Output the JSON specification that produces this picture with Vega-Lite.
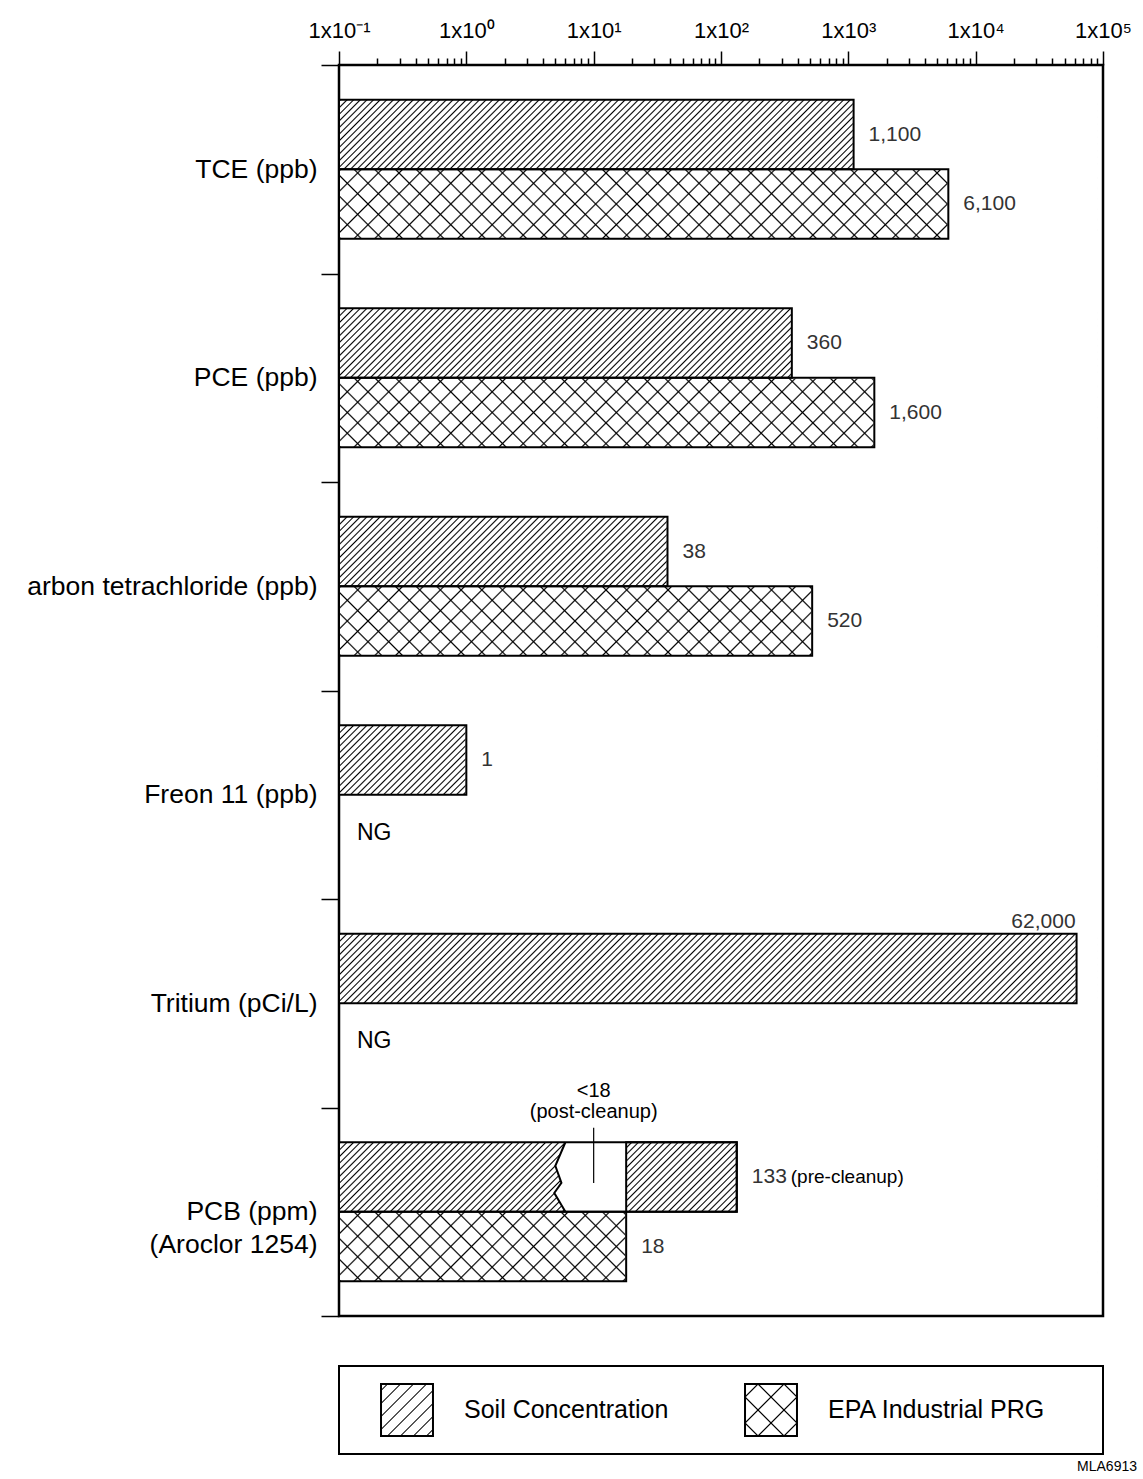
{
  "$schema": "https://vega.github.io/schema/vega-lite/v6.json",
  "background": "white",
  "padding": {"left": 25, "top": 17, "right": 0, "bottom": 0},
  "spacing": 50,
  "bounds": "flush",
  "config": {"font": "Liberation Sans"},
  "vconcat": [
    {
      "width": 764,
      "height": 1251,
      "view": {"stroke": "black", "strokeWidth": 2.5},
      "data": {"values": [
        {"cat": "TCE (ppb)", "series": "Soil Concentration", "value": 1100, "label": "1,100"},
        {"cat": "TCE (ppb)", "series": "EPA Industrial PRG", "value": 6100, "label": "6,100"},
        {"cat": "PCE (ppb)", "series": "Soil Concentration", "value": 360, "label": "360"},
        {"cat": "PCE (ppb)", "series": "EPA Industrial PRG", "value": 1600, "label": "1,600"},
        {"cat": "arbon tetrachloride (ppb)", "series": "Soil Concentration", "value": 38, "label": "38"},
        {"cat": "arbon tetrachloride (ppb)", "series": "EPA Industrial PRG", "value": 520, "label": "520"},
        {"cat": "Freon 11 (ppb)", "series": "Soil Concentration", "value": 1, "label": "1"},
        {"cat": "Freon 11 (ppb)", "series": "EPA Industrial PRG", "value": null, "label": "NG"},
        {"cat": "Tritium (pCi/L)", "series": "Soil Concentration", "value": 62000, "label": "62,000"},
        {"cat": "Tritium (pCi/L)", "series": "EPA Industrial PRG", "value": null, "label": "NG"},
        {"cat": "PCB (ppm)|(Aroclor 1254)", "series": "Soil Concentration", "value": 133, "label": "133"},
        {"cat": "PCB (ppm)|(Aroclor 1254)", "series": "EPA Industrial PRG", "value": 18, "label": "18"}
      ]},
      "encoding": {
        "y": {
          "field": "cat", "type": "nominal", "sort": null,
          "scale": {"domain": ["TCE (ppb)", "PCE (ppb)", "arbon tetrachloride (ppb)", "Freon 11 (ppb)", "Tritium (pCi/L)", "PCB (ppm)|(Aroclor 1254)"], "paddingInner": 0, "paddingOuter": 0},
          "axis": {"orient": "left", "title": null, "domain": false, "tickBand": "extent", "tickSize": 18, "tickWidth": 1.5, "tickColor": "black", "labelFontSize": 26.5, "labelColor": "black", "labelFont": "Liberation Sans", "labelPadding": 4, "labelLimit": 600, "labelExpr": "split(datum.label, '|')", "labelLineHeight": 33, "grid": false}
        },
        "yOffset": {
          "field": "series", "type": "nominal",
          "scale": {"domain": ["Soil Concentration", "EPA Industrial PRG"], "paddingInner": 0, "paddingOuter": 0.5}
        }
      },
      "layer": [
        {
          "transform": [{"filter": "datum.series == 'Soil Concentration'"}],
          "mark": {"type": "bar", "strokeWidth": 0, "fill": {"gradient": "linear", "x1": 0, "y1": 0, "x2": 1.0826, "y2": 0.0992, "stops": [
{"offset":0,"color":"#fff"},{"offset":0.0018,"color":"#000"},{"offset":0.0036,"color":"#fff"},
{"offset":0.008,"color":"#fff"},{"offset":0.0098,"color":"#000"},{"offset":0.0116,"color":"#fff"},
{"offset":0.016,"color":"#fff"},{"offset":0.0178,"color":"#000"},{"offset":0.0196,"color":"#fff"},
{"offset":0.024,"color":"#fff"},{"offset":0.0258,"color":"#000"},{"offset":0.0276,"color":"#fff"},
{"offset":0.032,"color":"#fff"},{"offset":0.0338,"color":"#000"},{"offset":0.0356,"color":"#fff"},
{"offset":0.04,"color":"#fff"},{"offset":0.0418,"color":"#000"},{"offset":0.0436,"color":"#fff"},
{"offset":0.048,"color":"#fff"},{"offset":0.0498,"color":"#000"},{"offset":0.0516,"color":"#fff"},
{"offset":0.056,"color":"#fff"},{"offset":0.0578,"color":"#000"},{"offset":0.0596,"color":"#fff"},
{"offset":0.064,"color":"#fff"},{"offset":0.0658,"color":"#000"},{"offset":0.0676,"color":"#fff"},
{"offset":0.072,"color":"#fff"},{"offset":0.0738,"color":"#000"},{"offset":0.0756,"color":"#fff"},
{"offset":0.08,"color":"#fff"},{"offset":0.0818,"color":"#000"},{"offset":0.0836,"color":"#fff"},
{"offset":0.088,"color":"#fff"},{"offset":0.0898,"color":"#000"},{"offset":0.0916,"color":"#fff"},
{"offset":0.096,"color":"#fff"},{"offset":0.0978,"color":"#000"},{"offset":0.0996,"color":"#fff"},
{"offset":0.104,"color":"#fff"},{"offset":0.1058,"color":"#000"},{"offset":0.1076,"color":"#fff"},
{"offset":0.112,"color":"#fff"},{"offset":0.1138,"color":"#000"},{"offset":0.1156,"color":"#fff"},
{"offset":0.12,"color":"#fff"},{"offset":0.1218,"color":"#000"},{"offset":0.1236,"color":"#fff"},
{"offset":0.128,"color":"#fff"},{"offset":0.1298,"color":"#000"},{"offset":0.1316,"color":"#fff"},
{"offset":0.136,"color":"#fff"},{"offset":0.1378,"color":"#000"},{"offset":0.1396,"color":"#fff"},
{"offset":0.144,"color":"#fff"},{"offset":0.1458,"color":"#000"},{"offset":0.1476,"color":"#fff"},
{"offset":0.152,"color":"#fff"},{"offset":0.1538,"color":"#000"},{"offset":0.1556,"color":"#fff"},
{"offset":0.16,"color":"#fff"},{"offset":0.1618,"color":"#000"},{"offset":0.1636,"color":"#fff"},
{"offset":0.168,"color":"#fff"},{"offset":0.1698,"color":"#000"},{"offset":0.1716,"color":"#fff"},
{"offset":0.176,"color":"#fff"},{"offset":0.1778,"color":"#000"},{"offset":0.1796,"color":"#fff"},
{"offset":0.184,"color":"#fff"},{"offset":0.1858,"color":"#000"},{"offset":0.1876,"color":"#fff"},
{"offset":0.192,"color":"#fff"},{"offset":0.1938,"color":"#000"},{"offset":0.1956,"color":"#fff"},
{"offset":0.2,"color":"#fff"},{"offset":0.2018,"color":"#000"},{"offset":0.2036,"color":"#fff"},
{"offset":0.208,"color":"#fff"},{"offset":0.2098,"color":"#000"},{"offset":0.2116,"color":"#fff"},
{"offset":0.216,"color":"#fff"},{"offset":0.2178,"color":"#000"},{"offset":0.2196,"color":"#fff"},
{"offset":0.224,"color":"#fff"},{"offset":0.2258,"color":"#000"},{"offset":0.2276,"color":"#fff"},
{"offset":0.232,"color":"#fff"},{"offset":0.2338,"color":"#000"},{"offset":0.2356,"color":"#fff"},
{"offset":0.24,"color":"#fff"},{"offset":0.2418,"color":"#000"},{"offset":0.2436,"color":"#fff"},
{"offset":0.248,"color":"#fff"},{"offset":0.2498,"color":"#000"},{"offset":0.2516,"color":"#fff"},
{"offset":0.256,"color":"#fff"},{"offset":0.2578,"color":"#000"},{"offset":0.2596,"color":"#fff"},
{"offset":0.264,"color":"#fff"},{"offset":0.2658,"color":"#000"},{"offset":0.2676,"color":"#fff"},
{"offset":0.272,"color":"#fff"},{"offset":0.2738,"color":"#000"},{"offset":0.2756,"color":"#fff"},
{"offset":0.28,"color":"#fff"},{"offset":0.2818,"color":"#000"},{"offset":0.2836,"color":"#fff"},
{"offset":0.288,"color":"#fff"},{"offset":0.2898,"color":"#000"},{"offset":0.2916,"color":"#fff"},
{"offset":0.296,"color":"#fff"},{"offset":0.2978,"color":"#000"},{"offset":0.2996,"color":"#fff"},
{"offset":0.304,"color":"#fff"},{"offset":0.3058,"color":"#000"},{"offset":0.3076,"color":"#fff"},
{"offset":0.312,"color":"#fff"},{"offset":0.3138,"color":"#000"},{"offset":0.3156,"color":"#fff"},
{"offset":0.32,"color":"#fff"},{"offset":0.3218,"color":"#000"},{"offset":0.3236,"color":"#fff"},
{"offset":0.328,"color":"#fff"},{"offset":0.3298,"color":"#000"},{"offset":0.3316,"color":"#fff"},
{"offset":0.336,"color":"#fff"},{"offset":0.3378,"color":"#000"},{"offset":0.3396,"color":"#fff"},
{"offset":0.344,"color":"#fff"},{"offset":0.3458,"color":"#000"},{"offset":0.3476,"color":"#fff"},
{"offset":0.352,"color":"#fff"},{"offset":0.3538,"color":"#000"},{"offset":0.3556,"color":"#fff"},
{"offset":0.36,"color":"#fff"},{"offset":0.3618,"color":"#000"},{"offset":0.3636,"color":"#fff"},
{"offset":0.368,"color":"#fff"},{"offset":0.3698,"color":"#000"},{"offset":0.3716,"color":"#fff"},
{"offset":0.376,"color":"#fff"},{"offset":0.3778,"color":"#000"},{"offset":0.3796,"color":"#fff"},
{"offset":0.384,"color":"#fff"},{"offset":0.3858,"color":"#000"},{"offset":0.3876,"color":"#fff"},
{"offset":0.392,"color":"#fff"},{"offset":0.3938,"color":"#000"},{"offset":0.3956,"color":"#fff"},
{"offset":0.4,"color":"#fff"},{"offset":0.4018,"color":"#000"},{"offset":0.4036,"color":"#fff"},
{"offset":0.408,"color":"#fff"},{"offset":0.4098,"color":"#000"},{"offset":0.4116,"color":"#fff"},
{"offset":0.416,"color":"#fff"},{"offset":0.4178,"color":"#000"},{"offset":0.4196,"color":"#fff"},
{"offset":0.424,"color":"#fff"},{"offset":0.4258,"color":"#000"},{"offset":0.4276,"color":"#fff"},
{"offset":0.432,"color":"#fff"},{"offset":0.4338,"color":"#000"},{"offset":0.4356,"color":"#fff"},
{"offset":0.44,"color":"#fff"},{"offset":0.4418,"color":"#000"},{"offset":0.4436,"color":"#fff"},
{"offset":0.448,"color":"#fff"},{"offset":0.4498,"color":"#000"},{"offset":0.4516,"color":"#fff"},
{"offset":0.456,"color":"#fff"},{"offset":0.4578,"color":"#000"},{"offset":0.4596,"color":"#fff"},
{"offset":0.464,"color":"#fff"},{"offset":0.4658,"color":"#000"},{"offset":0.4676,"color":"#fff"},
{"offset":0.472,"color":"#fff"},{"offset":0.4738,"color":"#000"},{"offset":0.4756,"color":"#fff"},
{"offset":0.48,"color":"#fff"},{"offset":0.4818,"color":"#000"},{"offset":0.4836,"color":"#fff"},
{"offset":0.488,"color":"#fff"},{"offset":0.4898,"color":"#000"},{"offset":0.4916,"color":"#fff"},
{"offset":0.496,"color":"#fff"},{"offset":0.4978,"color":"#000"},{"offset":0.4996,"color":"#fff"},
{"offset":0.504,"color":"#fff"},{"offset":0.5058,"color":"#000"},{"offset":0.5076,"color":"#fff"},
{"offset":0.512,"color":"#fff"},{"offset":0.5138,"color":"#000"},{"offset":0.5156,"color":"#fff"},
{"offset":0.52,"color":"#fff"},{"offset":0.5218,"color":"#000"},{"offset":0.5236,"color":"#fff"},
{"offset":0.528,"color":"#fff"},{"offset":0.5298,"color":"#000"},{"offset":0.5316,"color":"#fff"},
{"offset":0.536,"color":"#fff"},{"offset":0.5378,"color":"#000"},{"offset":0.5396,"color":"#fff"},
{"offset":0.544,"color":"#fff"},{"offset":0.5458,"color":"#000"},{"offset":0.5476,"color":"#fff"},
{"offset":0.552,"color":"#fff"},{"offset":0.5538,"color":"#000"},{"offset":0.5556,"color":"#fff"},
{"offset":0.56,"color":"#fff"},{"offset":0.5618,"color":"#000"},{"offset":0.5636,"color":"#fff"},
{"offset":0.568,"color":"#fff"},{"offset":0.5698,"color":"#000"},{"offset":0.5716,"color":"#fff"},
{"offset":0.576,"color":"#fff"},{"offset":0.5778,"color":"#000"},{"offset":0.5796,"color":"#fff"},
{"offset":0.584,"color":"#fff"},{"offset":0.5858,"color":"#000"},{"offset":0.5876,"color":"#fff"},
{"offset":0.592,"color":"#fff"},{"offset":0.5938,"color":"#000"},{"offset":0.5956,"color":"#fff"},
{"offset":0.6,"color":"#fff"},{"offset":0.6018,"color":"#000"},{"offset":0.6036,"color":"#fff"},
{"offset":0.608,"color":"#fff"},{"offset":0.6098,"color":"#000"},{"offset":0.6116,"color":"#fff"},
{"offset":0.616,"color":"#fff"},{"offset":0.6178,"color":"#000"},{"offset":0.6196,"color":"#fff"},
{"offset":0.624,"color":"#fff"},{"offset":0.6258,"color":"#000"},{"offset":0.6276,"color":"#fff"},
{"offset":0.632,"color":"#fff"},{"offset":0.6338,"color":"#000"},{"offset":0.6356,"color":"#fff"},
{"offset":0.64,"color":"#fff"},{"offset":0.6418,"color":"#000"},{"offset":0.6436,"color":"#fff"},
{"offset":0.648,"color":"#fff"},{"offset":0.6498,"color":"#000"},{"offset":0.6516,"color":"#fff"},
{"offset":0.656,"color":"#fff"},{"offset":0.6578,"color":"#000"},{"offset":0.6596,"color":"#fff"},
{"offset":0.664,"color":"#fff"},{"offset":0.6658,"color":"#000"},{"offset":0.6676,"color":"#fff"},
{"offset":0.672,"color":"#fff"},{"offset":0.6738,"color":"#000"},{"offset":0.6756,"color":"#fff"},
{"offset":0.68,"color":"#fff"},{"offset":0.6818,"color":"#000"},{"offset":0.6836,"color":"#fff"},
{"offset":0.688,"color":"#fff"},{"offset":0.6898,"color":"#000"},{"offset":0.6916,"color":"#fff"},
{"offset":0.696,"color":"#fff"},{"offset":0.6978,"color":"#000"},{"offset":0.6996,"color":"#fff"},
{"offset":0.704,"color":"#fff"},{"offset":0.7058,"color":"#000"},{"offset":0.7076,"color":"#fff"},
{"offset":0.712,"color":"#fff"},{"offset":0.7138,"color":"#000"},{"offset":0.7156,"color":"#fff"},
{"offset":0.72,"color":"#fff"},{"offset":0.7218,"color":"#000"},{"offset":0.7236,"color":"#fff"},
{"offset":0.728,"color":"#fff"},{"offset":0.7298,"color":"#000"},{"offset":0.7316,"color":"#fff"},
{"offset":0.736,"color":"#fff"},{"offset":0.7378,"color":"#000"},{"offset":0.7396,"color":"#fff"},
{"offset":0.744,"color":"#fff"},{"offset":0.7458,"color":"#000"},{"offset":0.7476,"color":"#fff"},
{"offset":0.752,"color":"#fff"},{"offset":0.7538,"color":"#000"},{"offset":0.7556,"color":"#fff"},
{"offset":0.76,"color":"#fff"},{"offset":0.7618,"color":"#000"},{"offset":0.7636,"color":"#fff"},
{"offset":0.768,"color":"#fff"},{"offset":0.7698,"color":"#000"},{"offset":0.7716,"color":"#fff"},
{"offset":0.776,"color":"#fff"},{"offset":0.7778,"color":"#000"},{"offset":0.7796,"color":"#fff"},
{"offset":0.784,"color":"#fff"},{"offset":0.7858,"color":"#000"},{"offset":0.7876,"color":"#fff"},
{"offset":0.792,"color":"#fff"},{"offset":0.7938,"color":"#000"},{"offset":0.7956,"color":"#fff"},
{"offset":0.8,"color":"#fff"},{"offset":0.8018,"color":"#000"},{"offset":0.8036,"color":"#fff"},
{"offset":0.808,"color":"#fff"},{"offset":0.8098,"color":"#000"},{"offset":0.8116,"color":"#fff"},
{"offset":0.816,"color":"#fff"},{"offset":0.8178,"color":"#000"},{"offset":0.8196,"color":"#fff"},
{"offset":0.824,"color":"#fff"},{"offset":0.8258,"color":"#000"},{"offset":0.8276,"color":"#fff"},
{"offset":0.832,"color":"#fff"},{"offset":0.8338,"color":"#000"},{"offset":0.8356,"color":"#fff"},
{"offset":0.84,"color":"#fff"},{"offset":0.8418,"color":"#000"},{"offset":0.8436,"color":"#fff"},
{"offset":0.848,"color":"#fff"},{"offset":0.8498,"color":"#000"},{"offset":0.8516,"color":"#fff"},
{"offset":0.856,"color":"#fff"},{"offset":0.8578,"color":"#000"},{"offset":0.8596,"color":"#fff"},
{"offset":0.864,"color":"#fff"},{"offset":0.8658,"color":"#000"},{"offset":0.8676,"color":"#fff"},
{"offset":0.872,"color":"#fff"},{"offset":0.8738,"color":"#000"},{"offset":0.8756,"color":"#fff"},
{"offset":0.88,"color":"#fff"},{"offset":0.8818,"color":"#000"},{"offset":0.8836,"color":"#fff"},
{"offset":0.888,"color":"#fff"},{"offset":0.8898,"color":"#000"},{"offset":0.8916,"color":"#fff"},
{"offset":0.896,"color":"#fff"},{"offset":0.8978,"color":"#000"},{"offset":0.8996,"color":"#fff"},
{"offset":0.904,"color":"#fff"},{"offset":0.9058,"color":"#000"},{"offset":0.9076,"color":"#fff"},
{"offset":0.912,"color":"#fff"},{"offset":0.9138,"color":"#000"},{"offset":0.9156,"color":"#fff"},
{"offset":0.92,"color":"#fff"},{"offset":0.9218,"color":"#000"},{"offset":0.9236,"color":"#fff"},
{"offset":0.928,"color":"#fff"},{"offset":0.9298,"color":"#000"},{"offset":0.9316,"color":"#fff"},
{"offset":0.936,"color":"#fff"},{"offset":0.9378,"color":"#000"},{"offset":0.9396,"color":"#fff"},
{"offset":0.944,"color":"#fff"},{"offset":0.9458,"color":"#000"},{"offset":0.9476,"color":"#fff"},
{"offset":0.952,"color":"#fff"},{"offset":0.9538,"color":"#000"},{"offset":0.9556,"color":"#fff"},
{"offset":0.96,"color":"#fff"},{"offset":0.9618,"color":"#000"},{"offset":0.9636,"color":"#fff"},
{"offset":0.968,"color":"#fff"},{"offset":0.9698,"color":"#000"},{"offset":0.9716,"color":"#fff"},
{"offset":0.976,"color":"#fff"},{"offset":0.9778,"color":"#000"},{"offset":0.9796,"color":"#fff"},
{"offset":0.984,"color":"#fff"},{"offset":0.9858,"color":"#000"},{"offset":0.9876,"color":"#fff"},
{"offset":0.992,"color":"#fff"},{"offset":0.9938,"color":"#000"},{"offset":0.9956,"color":"#fff"},
{"offset":1,"color":"#fff"}
          ]}},
          "encoding": {"x": {"datum": 90000, "type": "quantitative", "stack": null, "scale": {"type": "log", "domain": [0.1, 100000], "nice": false}}}
        },
        {
          "transform": [{"filter": "datum.series == 'EPA Industrial PRG' && isValid(datum.value)"}],
          "mark": {"type": "bar", "strokeWidth": 0, "fill": {"gradient": "linear", "x1": 0, "y1": 0, "x2": 1.0826, "y2": 0.0992, "stops": [
{"offset":0,"color":"#fff"},{"offset":0.002,"color":"#000"},{"offset":0.004,"color":"#fff"},
{"offset":0.025,"color":"#fff"},{"offset":0.027,"color":"#000"},{"offset":0.029,"color":"#fff"},
{"offset":0.05,"color":"#fff"},{"offset":0.052,"color":"#000"},{"offset":0.054,"color":"#fff"},
{"offset":0.075,"color":"#fff"},{"offset":0.077,"color":"#000"},{"offset":0.079,"color":"#fff"},
{"offset":0.1,"color":"#fff"},{"offset":0.102,"color":"#000"},{"offset":0.104,"color":"#fff"},
{"offset":0.125,"color":"#fff"},{"offset":0.127,"color":"#000"},{"offset":0.129,"color":"#fff"},
{"offset":0.15,"color":"#fff"},{"offset":0.152,"color":"#000"},{"offset":0.154,"color":"#fff"},
{"offset":0.175,"color":"#fff"},{"offset":0.177,"color":"#000"},{"offset":0.179,"color":"#fff"},
{"offset":0.2,"color":"#fff"},{"offset":0.202,"color":"#000"},{"offset":0.204,"color":"#fff"},
{"offset":0.225,"color":"#fff"},{"offset":0.227,"color":"#000"},{"offset":0.229,"color":"#fff"},
{"offset":0.25,"color":"#fff"},{"offset":0.252,"color":"#000"},{"offset":0.254,"color":"#fff"},
{"offset":0.275,"color":"#fff"},{"offset":0.277,"color":"#000"},{"offset":0.279,"color":"#fff"},
{"offset":0.3,"color":"#fff"},{"offset":0.302,"color":"#000"},{"offset":0.304,"color":"#fff"},
{"offset":0.325,"color":"#fff"},{"offset":0.327,"color":"#000"},{"offset":0.329,"color":"#fff"},
{"offset":0.35,"color":"#fff"},{"offset":0.352,"color":"#000"},{"offset":0.354,"color":"#fff"},
{"offset":0.375,"color":"#fff"},{"offset":0.377,"color":"#000"},{"offset":0.379,"color":"#fff"},
{"offset":0.4,"color":"#fff"},{"offset":0.402,"color":"#000"},{"offset":0.404,"color":"#fff"},
{"offset":0.425,"color":"#fff"},{"offset":0.427,"color":"#000"},{"offset":0.429,"color":"#fff"},
{"offset":0.45,"color":"#fff"},{"offset":0.452,"color":"#000"},{"offset":0.454,"color":"#fff"},
{"offset":0.475,"color":"#fff"},{"offset":0.477,"color":"#000"},{"offset":0.479,"color":"#fff"},
{"offset":0.5,"color":"#fff"},{"offset":0.502,"color":"#000"},{"offset":0.504,"color":"#fff"},
{"offset":0.525,"color":"#fff"},{"offset":0.527,"color":"#000"},{"offset":0.529,"color":"#fff"},
{"offset":0.55,"color":"#fff"},{"offset":0.552,"color":"#000"},{"offset":0.554,"color":"#fff"},
{"offset":0.575,"color":"#fff"},{"offset":0.577,"color":"#000"},{"offset":0.579,"color":"#fff"},
{"offset":0.6,"color":"#fff"},{"offset":0.602,"color":"#000"},{"offset":0.604,"color":"#fff"},
{"offset":0.625,"color":"#fff"},{"offset":0.627,"color":"#000"},{"offset":0.629,"color":"#fff"},
{"offset":0.65,"color":"#fff"},{"offset":0.652,"color":"#000"},{"offset":0.654,"color":"#fff"},
{"offset":0.675,"color":"#fff"},{"offset":0.677,"color":"#000"},{"offset":0.679,"color":"#fff"},
{"offset":0.7,"color":"#fff"},{"offset":0.702,"color":"#000"},{"offset":0.704,"color":"#fff"},
{"offset":0.725,"color":"#fff"},{"offset":0.727,"color":"#000"},{"offset":0.729,"color":"#fff"},
{"offset":0.75,"color":"#fff"},{"offset":0.752,"color":"#000"},{"offset":0.754,"color":"#fff"},
{"offset":0.775,"color":"#fff"},{"offset":0.777,"color":"#000"},{"offset":0.779,"color":"#fff"},
{"offset":0.8,"color":"#fff"},{"offset":0.802,"color":"#000"},{"offset":0.804,"color":"#fff"},
{"offset":0.825,"color":"#fff"},{"offset":0.827,"color":"#000"},{"offset":0.829,"color":"#fff"},
{"offset":0.85,"color":"#fff"},{"offset":0.852,"color":"#000"},{"offset":0.854,"color":"#fff"},
{"offset":0.875,"color":"#fff"},{"offset":0.877,"color":"#000"},{"offset":0.879,"color":"#fff"},
{"offset":0.9,"color":"#fff"},{"offset":0.902,"color":"#000"},{"offset":0.904,"color":"#fff"},
{"offset":0.925,"color":"#fff"},{"offset":0.927,"color":"#000"},{"offset":0.929,"color":"#fff"},
{"offset":0.95,"color":"#fff"},{"offset":0.952,"color":"#000"},{"offset":0.954,"color":"#fff"},
{"offset":0.975,"color":"#fff"},{"offset":0.977,"color":"#000"},{"offset":0.979,"color":"#fff"},
{"offset":1,"color":"#fff"}
          ]}},
          "encoding": {"x": {"datum": 90000, "type": "quantitative", "stack": null}}
        },
        {
          "transform": [{"filter": "datum.series == 'EPA Industrial PRG' && isValid(datum.value)"}],
          "mark": {"type": "bar", "strokeWidth": 0, "fill": {"gradient": "linear", "x1": 0, "y1": 1, "x2": 1.0826, "y2": 0.9008, "stops": [
{"offset":0,"color":"rgba(0,0,0,0)"},{"offset":0.002,"color":"#000"},{"offset":0.004,"color":"rgba(0,0,0,0)"},
{"offset":0.025,"color":"rgba(0,0,0,0)"},{"offset":0.027,"color":"#000"},{"offset":0.029,"color":"rgba(0,0,0,0)"},
{"offset":0.05,"color":"rgba(0,0,0,0)"},{"offset":0.052,"color":"#000"},{"offset":0.054,"color":"rgba(0,0,0,0)"},
{"offset":0.075,"color":"rgba(0,0,0,0)"},{"offset":0.077,"color":"#000"},{"offset":0.079,"color":"rgba(0,0,0,0)"},
{"offset":0.1,"color":"rgba(0,0,0,0)"},{"offset":0.102,"color":"#000"},{"offset":0.104,"color":"rgba(0,0,0,0)"},
{"offset":0.125,"color":"rgba(0,0,0,0)"},{"offset":0.127,"color":"#000"},{"offset":0.129,"color":"rgba(0,0,0,0)"},
{"offset":0.15,"color":"rgba(0,0,0,0)"},{"offset":0.152,"color":"#000"},{"offset":0.154,"color":"rgba(0,0,0,0)"},
{"offset":0.175,"color":"rgba(0,0,0,0)"},{"offset":0.177,"color":"#000"},{"offset":0.179,"color":"rgba(0,0,0,0)"},
{"offset":0.2,"color":"rgba(0,0,0,0)"},{"offset":0.202,"color":"#000"},{"offset":0.204,"color":"rgba(0,0,0,0)"},
{"offset":0.225,"color":"rgba(0,0,0,0)"},{"offset":0.227,"color":"#000"},{"offset":0.229,"color":"rgba(0,0,0,0)"},
{"offset":0.25,"color":"rgba(0,0,0,0)"},{"offset":0.252,"color":"#000"},{"offset":0.254,"color":"rgba(0,0,0,0)"},
{"offset":0.275,"color":"rgba(0,0,0,0)"},{"offset":0.277,"color":"#000"},{"offset":0.279,"color":"rgba(0,0,0,0)"},
{"offset":0.3,"color":"rgba(0,0,0,0)"},{"offset":0.302,"color":"#000"},{"offset":0.304,"color":"rgba(0,0,0,0)"},
{"offset":0.325,"color":"rgba(0,0,0,0)"},{"offset":0.327,"color":"#000"},{"offset":0.329,"color":"rgba(0,0,0,0)"},
{"offset":0.35,"color":"rgba(0,0,0,0)"},{"offset":0.352,"color":"#000"},{"offset":0.354,"color":"rgba(0,0,0,0)"},
{"offset":0.375,"color":"rgba(0,0,0,0)"},{"offset":0.377,"color":"#000"},{"offset":0.379,"color":"rgba(0,0,0,0)"},
{"offset":0.4,"color":"rgba(0,0,0,0)"},{"offset":0.402,"color":"#000"},{"offset":0.404,"color":"rgba(0,0,0,0)"},
{"offset":0.425,"color":"rgba(0,0,0,0)"},{"offset":0.427,"color":"#000"},{"offset":0.429,"color":"rgba(0,0,0,0)"},
{"offset":0.45,"color":"rgba(0,0,0,0)"},{"offset":0.452,"color":"#000"},{"offset":0.454,"color":"rgba(0,0,0,0)"},
{"offset":0.475,"color":"rgba(0,0,0,0)"},{"offset":0.477,"color":"#000"},{"offset":0.479,"color":"rgba(0,0,0,0)"},
{"offset":0.5,"color":"rgba(0,0,0,0)"},{"offset":0.502,"color":"#000"},{"offset":0.504,"color":"rgba(0,0,0,0)"},
{"offset":0.525,"color":"rgba(0,0,0,0)"},{"offset":0.527,"color":"#000"},{"offset":0.529,"color":"rgba(0,0,0,0)"},
{"offset":0.55,"color":"rgba(0,0,0,0)"},{"offset":0.552,"color":"#000"},{"offset":0.554,"color":"rgba(0,0,0,0)"},
{"offset":0.575,"color":"rgba(0,0,0,0)"},{"offset":0.577,"color":"#000"},{"offset":0.579,"color":"rgba(0,0,0,0)"},
{"offset":0.6,"color":"rgba(0,0,0,0)"},{"offset":0.602,"color":"#000"},{"offset":0.604,"color":"rgba(0,0,0,0)"},
{"offset":0.625,"color":"rgba(0,0,0,0)"},{"offset":0.627,"color":"#000"},{"offset":0.629,"color":"rgba(0,0,0,0)"},
{"offset":0.65,"color":"rgba(0,0,0,0)"},{"offset":0.652,"color":"#000"},{"offset":0.654,"color":"rgba(0,0,0,0)"},
{"offset":0.675,"color":"rgba(0,0,0,0)"},{"offset":0.677,"color":"#000"},{"offset":0.679,"color":"rgba(0,0,0,0)"},
{"offset":0.7,"color":"rgba(0,0,0,0)"},{"offset":0.702,"color":"#000"},{"offset":0.704,"color":"rgba(0,0,0,0)"},
{"offset":0.725,"color":"rgba(0,0,0,0)"},{"offset":0.727,"color":"#000"},{"offset":0.729,"color":"rgba(0,0,0,0)"},
{"offset":0.75,"color":"rgba(0,0,0,0)"},{"offset":0.752,"color":"#000"},{"offset":0.754,"color":"rgba(0,0,0,0)"},
{"offset":0.775,"color":"rgba(0,0,0,0)"},{"offset":0.777,"color":"#000"},{"offset":0.779,"color":"rgba(0,0,0,0)"},
{"offset":0.8,"color":"rgba(0,0,0,0)"},{"offset":0.802,"color":"#000"},{"offset":0.804,"color":"rgba(0,0,0,0)"},
{"offset":0.825,"color":"rgba(0,0,0,0)"},{"offset":0.827,"color":"#000"},{"offset":0.829,"color":"rgba(0,0,0,0)"},
{"offset":0.85,"color":"rgba(0,0,0,0)"},{"offset":0.852,"color":"#000"},{"offset":0.854,"color":"rgba(0,0,0,0)"},
{"offset":0.875,"color":"rgba(0,0,0,0)"},{"offset":0.877,"color":"#000"},{"offset":0.879,"color":"rgba(0,0,0,0)"},
{"offset":0.9,"color":"rgba(0,0,0,0)"},{"offset":0.902,"color":"#000"},{"offset":0.904,"color":"rgba(0,0,0,0)"},
{"offset":0.925,"color":"rgba(0,0,0,0)"},{"offset":0.927,"color":"#000"},{"offset":0.929,"color":"rgba(0,0,0,0)"},
{"offset":0.95,"color":"rgba(0,0,0,0)"},{"offset":0.952,"color":"#000"},{"offset":0.954,"color":"rgba(0,0,0,0)"},
{"offset":0.975,"color":"rgba(0,0,0,0)"},{"offset":0.977,"color":"#000"},{"offset":0.979,"color":"rgba(0,0,0,0)"},
{"offset":1,"color":"rgba(0,0,0,0)"}
          ]}},
          "encoding": {"x": {"datum": 90000, "type": "quantitative", "stack": null}}
        },
        {
          "transform": [{"filter": "isValid(datum.value)"}],
          "mark": {"type": "bar", "fill": "white", "stroke": "white", "strokeWidth": 1.5},
          "encoding": {
            "x": {"field": "value", "type": "quantitative", "stack": null, "scale": {"type": "log", "domain": [0.1, 100000], "nice": false},
              "axis": {"orient": "top", "title": null, "domain": false, "grid": false,
                "values": [0.1,0.2,0.3,0.4,0.5,0.6,0.7,0.8,0.9,1,2,3,4,5,6,7,8,9,10,20,30,40,50,60,70,80,90,100,200,300,400,500,600,700,800,900,1000,2000,3000,4000,5000,6000,7000,8000,9000,10000,20000,30000,40000,50000,60000,70000,80000,90000,100000],
                "labelExpr": "datum.value == 0.1 ? '1x10⁻¹' : datum.value == 1 ? '1x10⁰' : datum.value == 10 ? '1x10¹' : datum.value == 100 ? '1x10²' : datum.value == 1000 ? '1x10³' : datum.value == 10000 ? '1x10⁴' : datum.value == 100000 ? '1x10⁵' : ''",
                "tickSize": {"condition": {"test": "indexof([0.1,1,10,100,1000,10000,100000], datum.value) >= 0", "value": 14}, "value": 7},
                "tickWidth": 1.5, "tickColor": "black", "labelFontSize": 22, "labelColor": "black", "labelFont": "Liberation Sans", "labelPadding": 9, "labelFlush": false, "labelOverlap": false, "labelBound": false}},
            "x2": {"datum": 90000}
          }
        },
        {
          "data": {"values": [{"cat": "PCB (ppm)|(Aroclor 1254)", "series": "Soil Concentration", "brk": 6, "post": 18, "pre": 133}]},
          "mark": {"type": "bar", "fill": "white", "strokeWidth": 0},
          "encoding": {"x": {"field": "brk", "type": "quantitative", "stack": null}, "x2": {"field": "post"}}
        },
        {
          "data": {"values": [{"cat": "PCB (ppm)|(Aroclor 1254)", "series": "Soil Concentration", "brk": 6}]},
          "mark": {"type": "point", "shape": "M0,-1L-0.29,-0.32L-0.115,0.17L-0.32,0.46L0,1L0.6,1L0.6,-1Z", "size": 4830, "filled": true, "fill": "white", "strokeWidth": 0, "opacity": 1},
          "encoding": {"x": {"field": "brk", "type": "quantitative"}}
        },
        {
          "transform": [{"filter": "isValid(datum.value)"}],
          "mark": {"type": "bar", "fill": "transparent", "stroke": "black", "strokeWidth": 2},
          "encoding": {"x": {"field": "value", "type": "quantitative", "stack": null}}
        },
        {
          "data": {"values": [{"cat": "PCB (ppm)|(Aroclor 1254)", "series": "Soil Concentration", "brk": 6, "post": 18, "pre": 133}]},
          "mark": {"type": "bar", "fill": "transparent", "stroke": "black", "strokeWidth": 2},
          "encoding": {"x": {"field": "post", "type": "quantitative", "stack": null}, "x2": {"field": "pre"}}
        },
        {
          "data": {"values": [{"cat": "PCB (ppm)|(Aroclor 1254)", "series": "Soil Concentration", "brk": 6}]},
          "mark": {"type": "point", "shape": "M0,-1L-0.29,-0.32L-0.115,0.17L-0.32,0.46L0,1", "size": 4830, "filled": false, "stroke": "black", "strokeWidth": 2, "opacity": 1},
          "encoding": {"x": {"field": "brk", "type": "quantitative"}}
        },
        {
          "data": {"values": [{"cat": "PCB (ppm)|(Aroclor 1254)", "series": "Soil Concentration", "mid": 10}]},
          "mark": {"type": "point", "shape": "M0,-1.42L0,0.17", "size": 4830, "filled": false, "stroke": "black", "strokeWidth": 1.2, "opacity": 1},
          "encoding": {"x": {"field": "mid", "type": "quantitative"}}
        },
        {
          "transform": [{"filter": "isValid(datum.value) && datum.cat != 'Tritium (pCi/L)'"}],
          "mark": {"type": "text", "align": "left", "baseline": "middle", "dx": 15, "fontSize": 21, "fill": "#333333", "font": "Liberation Sans"},
          "encoding": {"x": {"field": "value", "type": "quantitative"}, "text": {"field": "label"}}
        },
        {
          "transform": [{"filter": "isValid(datum.value) && datum.cat == 'Tritium (pCi/L)'"}],
          "mark": {"type": "text", "align": "right", "baseline": "alphabetic", "dx": -1, "dy": -41, "fontSize": 21, "fill": "#333333", "font": "Liberation Sans"},
          "encoding": {"x": {"field": "value", "type": "quantitative"}, "text": {"field": "label"}}
        },
        {
          "transform": [{"filter": "!isValid(datum.value)"}],
          "mark": {"type": "text", "align": "left", "baseline": "middle", "dx": 18, "dy": 3, "fontSize": 23, "fill": "black", "font": "Liberation Sans"},
          "encoding": {"x": {"datum": 0.1, "type": "quantitative"}, "text": {"field": "label"}}
        },
        {
          "data": {"values": [{"cat": "PCB (ppm)|(Aroclor 1254)", "series": "Soil Concentration", "mid": 10, "pre": 133, "t1": "<18", "t2": "(post-cleanup)", "t3": "(pre-cleanup)"}]},
          "layer": [
            {"mark": {"type": "text", "align": "center", "baseline": "alphabetic", "dy": -80, "fontSize": 20, "fill": "black", "font": "Liberation Sans"},
             "encoding": {"x": {"field": "mid", "type": "quantitative"}, "text": {"field": "t1"}}},
            {"mark": {"type": "text", "align": "center", "baseline": "alphabetic", "dy": -59, "fontSize": 20, "fill": "black", "font": "Liberation Sans"},
             "encoding": {"x": {"field": "mid", "type": "quantitative"}, "text": {"field": "t2"}}},
            {"mark": {"type": "text", "align": "left", "baseline": "middle", "dx": 54, "fontSize": 19, "fill": "black", "font": "Liberation Sans"},
             "encoding": {"x": {"field": "pre", "type": "quantitative"}, "text": {"field": "t3"}}}
          ]
        }
      ]
    },
    {
      "width": 764,
      "height": 88,
      "view": {"stroke": "black", "strokeWidth": 2},
      "data": {"values": [
        {"name": "Soil Concentration", "row": "k"},
        {"name": "EPA Industrial PRG", "row": "k"}
      ]},
      "title": {"text": "MLA6913", "orient": "bottom", "anchor": "end", "dx": 34, "offset": 6, "fontSize": 14, "fontWeight": "normal", "font": "Liberation Sans Narrow, Liberation Sans", "color": "black"},
      "encoding": {
        "x": {"field": "name", "type": "nominal", "sort": null, "scale": {"type": "point", "domain": ["Soil Concentration", "EPA Industrial PRG"], "range": [68, 432], "padding": 0}, "axis": null},
        "y": {"field": "row", "type": "nominal", "axis": null}
      },
      "layer": [
        {
          "transform": [{"filter": "datum.name == 'Soil Concentration'"}],
          "mark": {"type": "point", "shape": "square", "size": 2700, "filled": true, "opacity": 1, "stroke": "black", "strokeWidth": 2,
            "fill": {"gradient": "linear", "x1": 0, "y1": 0, "x2": 1, "y2": 1, "stops": [
{"offset":0,"color":"#fff"},
{"offset":0.0485,"color":"#fff"},{"offset":0.0625,"color":"#000"},{"offset":0.0765,"color":"#fff"},
{"offset":0.1735,"color":"#fff"},{"offset":0.1875,"color":"#000"},{"offset":0.2015,"color":"#fff"},
{"offset":0.2985,"color":"#fff"},{"offset":0.3125,"color":"#000"},{"offset":0.3265,"color":"#fff"},
{"offset":0.4235,"color":"#fff"},{"offset":0.4375,"color":"#000"},{"offset":0.4515,"color":"#fff"},
{"offset":0.5485,"color":"#fff"},{"offset":0.5625,"color":"#000"},{"offset":0.5765,"color":"#fff"},
{"offset":0.6735,"color":"#fff"},{"offset":0.6875,"color":"#000"},{"offset":0.7015,"color":"#fff"},
{"offset":0.7985,"color":"#fff"},{"offset":0.8125,"color":"#000"},{"offset":0.8265,"color":"#fff"},
{"offset":0.9235,"color":"#fff"},{"offset":0.9375,"color":"#000"},{"offset":0.9515,"color":"#fff"},
{"offset":1,"color":"#fff"}
            ]}}
        },
        {
          "transform": [{"filter": "datum.name == 'EPA Industrial PRG'"}],
          "mark": {"type": "point", "shape": "square", "size": 2700, "filled": true, "opacity": 1, "strokeWidth": 0,
            "fill": {"gradient": "linear", "x1": 0, "y1": 0, "x2": 1, "y2": 1, "stops": [
{"offset":0,"color":"#fff"},
{"offset":0.11,"color":"#fff"},{"offset":0.125,"color":"#000"},{"offset":0.14,"color":"#fff"},
{"offset":0.36,"color":"#fff"},{"offset":0.375,"color":"#000"},{"offset":0.39,"color":"#fff"},
{"offset":0.61,"color":"#fff"},{"offset":0.625,"color":"#000"},{"offset":0.64,"color":"#fff"},
{"offset":0.86,"color":"#fff"},{"offset":0.875,"color":"#000"},{"offset":0.89,"color":"#fff"},
{"offset":1,"color":"#fff"}
            ]}}
        },
        {
          "transform": [{"filter": "datum.name == 'EPA Industrial PRG'"}],
          "mark": {"type": "point", "shape": "square", "size": 2700, "filled": true, "opacity": 1, "stroke": "black", "strokeWidth": 2,
            "fill": {"gradient": "linear", "x1": 0, "y1": 1, "x2": 1, "y2": 0, "stops": [
{"offset":0,"color":"rgba(0,0,0,0)"},
{"offset":0.11,"color":"rgba(0,0,0,0)"},{"offset":0.125,"color":"#000"},{"offset":0.14,"color":"rgba(0,0,0,0)"},
{"offset":0.36,"color":"rgba(0,0,0,0)"},{"offset":0.375,"color":"#000"},{"offset":0.39,"color":"rgba(0,0,0,0)"},
{"offset":0.61,"color":"rgba(0,0,0,0)"},{"offset":0.625,"color":"#000"},{"offset":0.64,"color":"rgba(0,0,0,0)"},
{"offset":0.86,"color":"rgba(0,0,0,0)"},{"offset":0.875,"color":"#000"},{"offset":0.89,"color":"rgba(0,0,0,0)"},
{"offset":1,"color":"rgba(0,0,0,0)"}
            ]}}
        },
        {
          "mark": {"type": "text", "align": "left", "baseline": "middle", "dx": 57, "fontSize": 25, "fill": "black", "font": "Liberation Sans"},
          "encoding": {"text": {"field": "name"}}
        }
      ]
    }
  ]
}
